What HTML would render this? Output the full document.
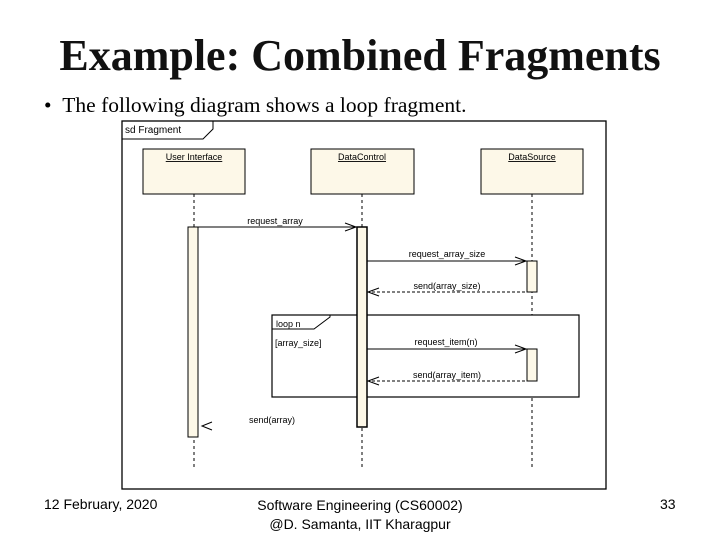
<!DOCTYPE html>
<html><head><style>
body{margin:0;width:720px;height:540px;background:#fff;position:relative;overflow:hidden;font-family:"Liberation Serif",serif}
.t{position:absolute;white-space:nowrap}
</style></head><body>
<div class="t" style="left:0;width:720px;text-align:center;top:30px;font-size:44px;font-weight:bold;color:#111">Example: Combined Fragments</div>
<div class="t" style="left:44px;top:93px;font-size:21.5px">•&nbsp;&nbsp;The following diagram shows a loop fragment.</div>
<svg width="720" height="540" style="position:absolute;left:0;top:0" font-family="Liberation Sans, sans-serif" font-size="9">
<rect x="122" y="121" width="484" height="368" fill="#fff" stroke="#000" stroke-width="1.3"/>
<path d="M122,139 H203 L213,129 V121" fill="none" stroke="#000"/>
<text x="125" y="133" font-size="10">sd Fragment</text>
<g fill="#fdf8e8" stroke="#000">
<rect x="143" y="149" width="102" height="45"/>
<rect x="311" y="149" width="103" height="45"/>
<rect x="481" y="149" width="102" height="45"/>
</g>
<g text-anchor="middle" text-decoration="underline">
<text x="194" y="160">User Interface</text>
<text x="362" y="160">DataControl</text>
<text x="532" y="160">DataSource</text>
</g>
<g stroke="#000" stroke-dasharray="3,3">
<line x1="194" y1="194" x2="194" y2="470"/>
<line x1="362" y1="194" x2="362" y2="470"/>
<line x1="532" y1="194" x2="532" y2="470"/>
</g>
<rect x="272" y="315" width="307" height="82" fill="#fff" stroke="#000" stroke-width="1.2"/>
<path d="M272,329 H314 L330,317 V315" fill="none" stroke="#000"/>
<text x="276" y="327">loop n</text>
<text x="275" y="346">[array_size]</text>
<g fill="#fdf8e8" stroke="#000">
<rect x="188" y="227" width="10" height="210"/>
<rect x="357" y="227" width="10" height="200" stroke-width="1.5"/>
<rect x="527" y="261" width="10" height="31"/>
<rect x="527" y="349" width="10" height="32"/>
</g>
<g stroke="#000" fill="none">
<line x1="198" y1="227" x2="357" y2="227"/><path d="M345,223 L356,227 L345,231"/>
<line x1="367" y1="261" x2="527" y2="261"/><path d="M515,257 L526,261 L515,265"/>
<line x1="367" y1="292" x2="527" y2="292" stroke-dasharray="3,2"/><path d="M379,288 L368,292 L379,296"/>
<line x1="367" y1="349" x2="527" y2="349"/><path d="M515,345 L526,349 L515,353"/>
<line x1="367" y1="381" x2="527" y2="381" stroke-dasharray="3,2"/><path d="M379,377 L368,381 L379,385"/>
<path d="M212,422 L202,426 L212,430"/>
</g>
<text x="275" y="224" text-anchor="middle">request_array</text>
<text x="447" y="257" text-anchor="middle">request_array_size</text>
<text x="447" y="289" text-anchor="middle">send(array_size)</text>
<text x="446" y="345" text-anchor="middle">request_item(n)</text>
<text x="447" y="378" text-anchor="middle">send(array_item)</text>
<text x="249" y="423">send(array)</text>
</svg>
<div class="t" style="left:44px;top:496px;font-size:14px;font-family:'Liberation Sans',sans-serif">12 February, 2020</div>
<div class="t" style="left:200px;width:320px;text-align:center;top:496px;font-size:14px;line-height:19px;font-family:'Liberation Sans',sans-serif">Software Engineering (CS60002)<br>@D. Samanta, IIT Kharagpur</div>
<div class="t" style="left:660px;top:496px;font-size:14px;font-family:'Liberation Sans',sans-serif">33</div>
</body></html>
